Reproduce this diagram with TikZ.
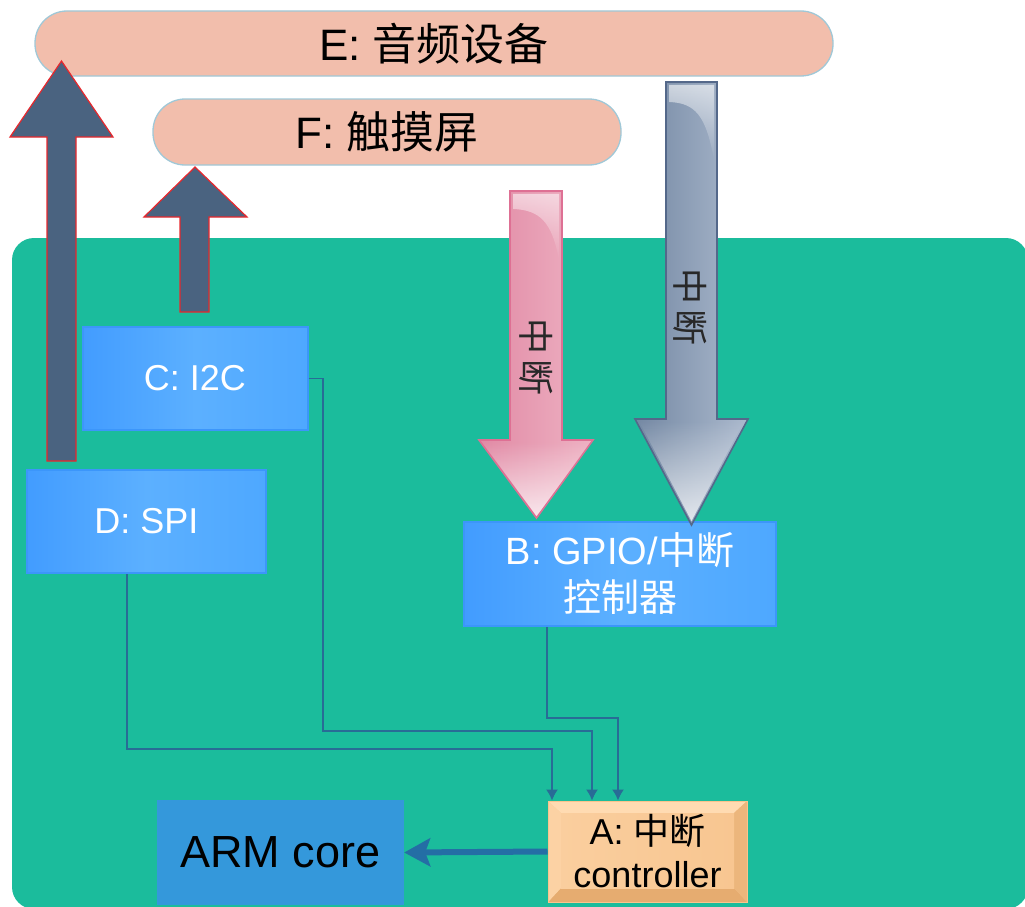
\documentclass[tikz,border=0pt]{standalone}
\usepackage{fontspec}
\setmainfont{Liberation Sans}
\newfontfamily\cjk{Noto Sans CJK SC}
\usetikzlibrary{arrows.meta,fadings,calc}

\definecolor{panelgreen}{RGB}{27,188,156}
\definecolor{pillfill}{RGB}{242,190,172}
\definecolor{pillline}{RGB}{160,200,215}
\definecolor{upfill}{RGB}{74,99,128}
\definecolor{upline}{RGB}{232,40,45}
\definecolor{blueL}{RGB}{66,156,255}
\definecolor{blueM}{RGB}{92,176,255}
\definecolor{blueR}{RGB}{78,168,255}
\definecolor{blueEdge}{RGB}{60,150,250}
\definecolor{armblue}{RGB}{52,152,219}
\definecolor{conn}{RGB}{40,108,150}
\definecolor{armarrow}{RGB}{36,110,165}
\definecolor{abody}{RGB}{248,198,145}
\definecolor{abodyL}{RGB}{250,206,158}
\definecolor{abevT}{RGB}{255,219,178}
\definecolor{abevL}{RGB}{252,210,164}
\definecolor{abevR}{RGB}{236,182,124}
\definecolor{abevB}{RGB}{230,172,112}
\definecolor{aline}{RGB}{250,196,140}
\definecolor{pinkD}{RGB}{225,138,165}
\definecolor{pinkL}{RGB}{238,178,195}
\definecolor{pinkLine}{RGB}{222,112,148}
\definecolor{greyD}{RGB}{116,136,163}
\definecolor{greyL}{RGB}{172,186,206}
\definecolor{greyLine}{RGB}{84,104,138}
\definecolor{glyph}{RGB}{40,40,40}

\begin{document}
\begin{tikzpicture}[x=1pt,y=-1pt,
  pill/.style={draw=pillline, line width=1.3pt, fill=pillfill, rounded corners=32pt,
    inner sep=0pt, font=\fontsize{44}{48}\selectfont},
  busbox/.style={rectangle, inner sep=0pt, left color=blueL, right color=blueR, middle color=blueM,
    draw=blueEdge, line width=2pt, text=white, align=center,
    font=\fontsize{36}{46}\selectfont},
  upblock/.style={fill=upfill, draw=upline, line width=1.2pt, line join=miter},
  connector/.style={draw=conn, line width=1.4pt, -{Latex[length=11pt,width=12pt]}},
  pinkblock/.style={left color=pinkD, right color=pinkL, draw=pinkLine, line width=1.6pt},
  greyblock/.style={left color=greyD, right color=greyL, draw=greyLine, line width=1.6pt},
  arrowtext/.style={rotate=-90, text=glyph, font=\cjk\fontsize{36}{40}\selectfont},
  bevelbox/.style={rectangle, inner sep=0pt, fill=abody, draw=aline, line width=1pt, align=center,
    font=\fontsize{36}{43}\selectfont,
    path picture={
      \fill[abevT] (path picture bounding box.north west) -- (path picture bounding box.north east)
        -- ([xshift=-13pt,yshift=-12pt]path picture bounding box.north east)
        -- ([xshift=13pt,yshift=-12pt]path picture bounding box.north west) -- cycle;
      \fill[abevB] (path picture bounding box.south west) -- (path picture bounding box.south east)
        -- ([xshift=-13pt,yshift=14pt]path picture bounding box.south east)
        -- ([xshift=13pt,yshift=14pt]path picture bounding box.south west) -- cycle;
      \fill[abevL] (path picture bounding box.north west) -- (path picture bounding box.south west)
        -- ([xshift=13pt,yshift=14pt]path picture bounding box.south west)
        -- ([xshift=13pt,yshift=-12pt]path picture bounding box.north west) -- cycle;
      \fill[abevR] (path picture bounding box.north east) -- (path picture bounding box.south east)
        -- ([xshift=-13pt,yshift=14pt]path picture bounding box.south east)
        -- ([xshift=-13pt,yshift=-12pt]path picture bounding box.north east) -- cycle;
      \shade[left color=abodyL, right color=abody]
        ([xshift=13pt,yshift=-12pt]path picture bounding box.north west)
        rectangle ([xshift=-13pt,yshift=14pt]path picture bounding box.south east);
    }},
]
\useasboundingbox (0,0) rectangle (1025,907);

% board background
\fill[panelgreen, rounded corners=22pt] (12,238) rectangle (1028,909);

% peripheral devices
\node[pill, minimum width=798pt, minimum height=65pt] (E) at (434,43.5) {E: {\cjk 音频设备}};
\node[pill, minimum width=468pt, minimum height=66pt] (F) at (387,132) {F: {\cjk 触摸屏}};

% bus controllers
\node[busbox, minimum width=225pt, minimum height=103pt] (C) at (195,378.5) {C: I2C};
\node[busbox, minimum width=239pt, minimum height=103pt] (D) at (146.5,521.5) {D: SPI};
\node[busbox, minimum width=312pt, minimum height=104pt, font=\fontsize{38}{47}\selectfont] (B) at (620,574)
  {B: GPIO/{\cjk 中断}\\{\cjk 控制器}};

% interrupt controller and CPU
\node[bevelbox, minimum width=199pt, minimum height=101pt] (A) at (647.5,851.5) {A: {\cjk 中断}\\controller};
\node[rectangle, fill=armblue, minimum width=247pt, minimum height=105pt, inner sep=0pt,
  font=\fontsize{45}{50}\selectfont] (ARM) at (280.5,852.5) {ARM core};

% data paths to the devices
\draw[upblock] (47,461) -- (47,137) -- (10,137) -- (61.5,61) -- (113,137) -- (76,137) -- (76,461) -- cycle;
\draw[upblock] (180,312) -- (180,217) -- (144,217) -- (195,167) -- (247,217) -- (209,217) -- (209,312) -- cycle;

% interrupt lines from the devices
\shade[pinkblock] (510,191) -- (562,191) -- (562,440) -- (593,440) -- (536.5,518) -- (479,440) -- (510,440) -- cycle;
\fill[white, path fading=north, fill opacity=0.75] (482,442) -- (591,442) -- (536.5,516) -- cycle;
\fill[white, fill opacity=0.55, path fading=south]
  (513,194) -- (559,194) -- (559,260) .. controls (552,222) and (540,210) .. (513,209) -- cycle;
\node[arrowtext] (pinkLabel) at (536,357) {中\hspace{5pt}断};

\shade[greyblock] (666,82) -- (717,82) -- (717,419) -- (748,419) -- (691.5,525) -- (635,419) -- (666,419) -- cycle;
\fill[white, path fading=north, fill opacity=0.75] (639,421) -- (744,421) -- (691.5,521) -- cycle;
\fill[white, fill opacity=0.6, path fading=south]
  (669,85) -- (714,85) -- (714,160) .. controls (706,115) and (695,103) .. (669,102) -- cycle;
\node[arrowtext] (greyLabel) at (690,307) {中\hspace{5pt}断};

% interrupt request wiring into A
\coordinate (jD) at (552,749);
\coordinate (jC) at (592,731);
\coordinate (jB) at (618,718);
\draw[connector] (D.south -| 127,0) |- (jD) -- (jD |- A.north);
\draw[connector] (C.east) -- (C.east -| 323,0) |- (jC) -- (jC |- A.north);
\draw[connector] (B.south -| 547,0) |- (jB) -- (jB |- A.north);

% A signals the CPU
\draw[armarrow, line width=6pt, -{Stealth[length=26pt,width=28pt,inset=5pt]}] (A.west) -- (ARM.east);
\end{tikzpicture}
\end{document}
